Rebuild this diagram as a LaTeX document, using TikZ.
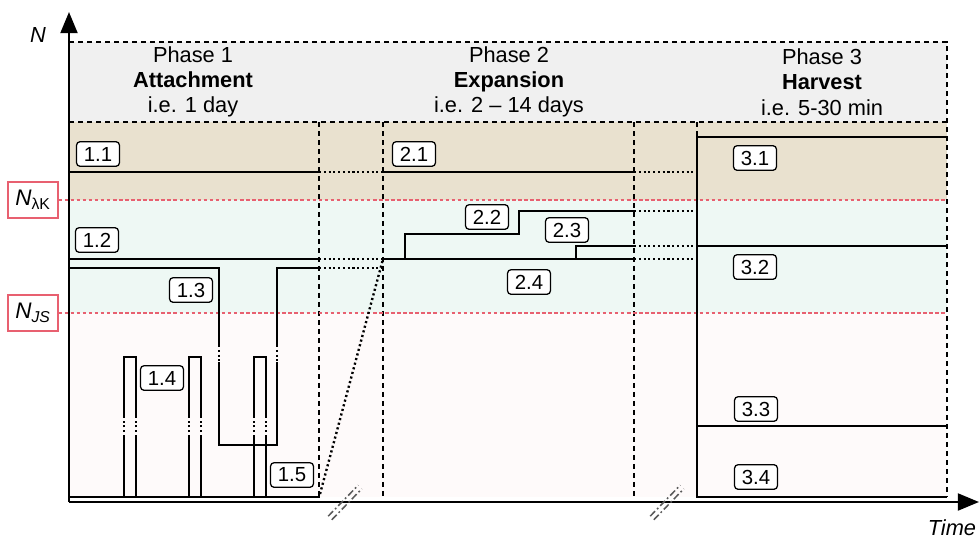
\documentclass[tikz,border=0pt]{standalone}
\usepackage{fontspec}
\setmainfont{Liberation Sans}
\usepackage{tikz}
\usetikzlibrary{arrows.meta, positioning}
\definecolor{headgray}{RGB}{240,240,240}
\definecolor{tanband}{RGB}{233,225,207}
\definecolor{mintband}{RGB}{238,248,244}
\definecolor{pinkband}{RGB}{254,250,250}
\definecolor{limred}{RGB}{232,96,112}
\tikzset{
  tag/.style={draw, rounded corners=2.5pt, fill=white, line width=0.9pt, minimum width=30.5pt, minimum height=17.5pt, inner sep=1pt, font=\fontsize{14.5}{16}\selectfont},
  head/.style={align=center, font=\fontsize{15.5}{18}\selectfont},
  lvl/.style={line width=1.7pt},
  gap/.style={line width=1.7pt, dash pattern=on 1.5pt off 1.9pt},
  phase/.style={line width=1.1pt, dash pattern=on 3.6pt off 2.8pt},
  limit/.style={limred, line width=0.8pt, dash pattern=on 2.5pt off 1.8pt},
  limbox/.style={draw=limred, fill=white, line width=0.9pt, minimum width=35.5pt, minimum height=25.5pt, inner sep=0pt, font=\fontsize{16}{18}\selectfont},
  brk/.style={black!65, line width=1.1pt, dash pattern=on 5pt off 2pt on 1.2pt off 2pt},
  axlab/.style={font=\itshape\fontsize{15.5}{17}\selectfont}
}

\begin{document}
\begin{tikzpicture}[x=0.025cm, y=-0.025cm]
\useasboundingbox (0,0) rectangle (979,539);

% bands
\fill[headgray] (69,42) rectangle (947,122);
\fill[tanband] (69,122) rectangle (947,200);
\fill[mintband] (69,200) rectangle (947,313);
\fill[pinkband] (69,313) rectangle (947,497);

\draw[phase] (69,42) -- (947,42) -- (947,497);
\draw[phase] (69,122) -- (947,122);
\foreach \x in {319,383,634,697}
  \draw[phase] (\x,122) -- (\x,497);

\node[limbox] (nlk) at (33,200) {\textit{N}\textsubscript{λK}};
\node[limbox] (njs) at (33,313) {\textit{N}\textsubscript{\textit{JS}}};
\draw[limit] (nlk.east) -- (947,200);
\draw[limit] (njs.east) -- (947,313);

\node[head] (ph1) at (193,82) {Phase 1\\\textbf{Attachment}\\i.e. 1 day};
\node[head] (ph2) at (509,82) {Phase 2\\\textbf{Expansion}\\i.e. 2 \textendash{} 14 days};
\node[head] (ph3) at (822,82) {Phase 3\\\textbf{Harvest}\\i.e. 5-30 min};

% phase 1
\draw[lvl] (69,172) -- (319,172);
\draw[lvl] (69,259) -- (319,259);
\draw[lvl] (69,268) -- (219,268) -- (219,345) (219,362) -- (219,445) -- (277,445) -- (277,362) (277,345) -- (277,268) -- (319,268);
\draw[gap] (219,345) -- (219,362) (277,345) -- (277,362);
\foreach \xa/\xb in {124/136, 189/201, 254/266}{
  \draw[lvl] (\xa,497) -- (\xa,437) (\xa,417) -- (\xa,357) -- (\xb,357) -- (\xb,417) (\xb,437) -- (\xb,497);
  \draw[gap] (\xa,437) -- (\xa,417) (\xb,437) -- (\xb,417);
}
\draw[lvl] (69,497) -- (320,497);
\draw[gap] (319,172) -- (383,172) (319,259) -- (383,259) (319,268) -- (383,268);
\draw[gap] (320,494) -- (383,259);

% phase 2
\draw[lvl] (383,172) -- (634,172);
\draw[lvl] (383,259) -- (634,259);
\draw[lvl] (405,259) -- (405,234) -- (519,234) -- (519,211) -- (634,211);
\draw[lvl] (576,259) -- (576,246) -- (634,246);
\foreach \y in {172,211,246,259}
  \draw[gap] (634,\y) -- (697,\y);

% phase 3
\draw[lvl] (947,137) -- (697,137) -- (697,497) -- (947,497);
\draw[lvl] (697,246) -- (947,246);
\draw[lvl] (697,426) -- (947,426);

% axes
\draw[lvl, -{Triangle[length=15pt, width=12pt]}] (69,502) -- (69,12);
\draw[lvl, -{Triangle[length=15pt, width=12pt]}] (69,502) -- (979,502);
\node[axlab] (ylab) at (38,35) {N};
\node[axlab, anchor=east] (xlab) at (981,528) {Time};
\foreach \bx in {345,667}
  \foreach \o in {-1.8,1.8}
    \draw[brk] (\bx-15+\o,518+\o) -- (\bx+15+\o,487+\o);

\node[tag] (t11) at (98,154) {1.1};
\node[tag] (t12) at (97,240) {1.2};
\node[tag] (t13) at (191,290) {1.3};
\node[tag] (t14) at (162,378) {1.4};
\node[tag] (t15) at (292,475) {1.5};
\node[tag] (t21) at (414,154) {2.1};
\node[tag] (t22) at (487,217) {2.2};
\node[tag] (t23) at (567,230) {2.3};
\node[tag] (t24) at (529,282) {2.4};
\node[tag] (t31) at (755,158) {3.1};
\node[tag] (t32) at (755,267) {3.2};
\node[tag] (t33) at (756,409) {3.3};
\node[tag] (t34) at (756,477) {3.4};
\end{tikzpicture}
\end{document}
